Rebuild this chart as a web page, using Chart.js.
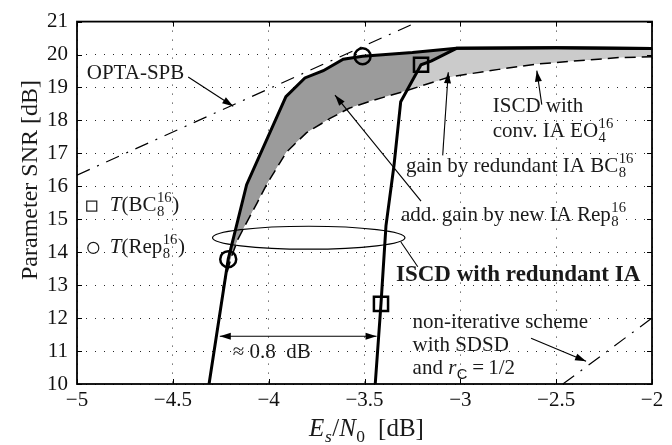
<!DOCTYPE html>
<html>
<head>
<meta charset="utf-8">
<script src="https://cdn.jsdelivr.net/npm/chart.js@4/dist/chart.umd.min.js"></script>
<style>
  html, body { margin: 0; padding: 0; background: #fff; }
  #wrap { width: 672px; height: 445px; }
</style>
</head>
<body>
<div id="wrap"><canvas id="c" width="672" height="445"></canvas></div>
<script>
// axes
const xTicks = [-5, -4.5, -4, -3.5, -3, -2.5, -2];
const yTicks = [10, 11, 12, 13, 14, 15, 16, 17, 18, 19, 20, 21];

// ISCD with redundant IA Rep_8^16 (thick, left curve)
const repX = [-4.311, -4.211, -4.115, -3.91, -3.811, -3.715, -3.611, -3.51, -3.25, -3.02, -2.5, -2.0];
const repY = [10.0, 13.79, 16.05, 18.72, 19.29, 19.51, 19.86, 19.95, 20.06, 20.19, 20.21, 20.18];
const repMarkX = [-4.211, -3.51];
const repMarkY = [13.79, 19.95];

// ISCD with redundant IA BC_8^16 (thick, right curve)
const bcX = [-3.444, -3.414, -3.388, -3.346, -3.311, -3.205, -3.15, -3.02, -2.5, -2.0];
const bcY = [10.0, 12.43, 14.8, 16.64, 18.57, 19.69, 19.81, 20.19, 20.21, 20.18];
const bcMarkX = [-3.414, -3.205];
const bcMarkY = [12.43, 19.69];

// ISCD with conventional IA EO_4^16 (dashed)
const eoX = [-4.24, -4.195, -4.16, -4.123, -4.06, -4.011, -3.907, -3.802, -3.68, -3.58, -3.45, -3.30, -3.057, -2.8, -2.605, -2.17, -2.0];
const eoY = [12.9, 13.85, 14.4, 14.81, 15.5, 16.05, 17.04, 17.63, 18.06, 18.37, 18.62, 18.87, 19.32, 19.55, 19.71, 19.91, 19.93];

// OPTA-SPB
const optaX = [-5, -3.22];
const optaY = [16.34, 21];

// non-iterative scheme with SDSD, r_C = 1/2
const sdsdX = [-2.465, -2.0];
const sdsdY = [10.0, 12.0];

const pts = (xs, ys) => xs.map((x, i) => ({ x, y: ys[i] }));
const minus = v => String(v).replace('-', '\u2212');
const clear = 'rgba(0,0,0,0)';

function font(size, it, bold, sans) {
  return (it ? 'italic ' : '') + (bold ? 'bold ' : '') + size + 'px ' +
    (sans ? "'Liberation Sans', sans-serif" : "'Liberation Serif', serif");
}

// text with italic parts and stacked sup/sub scripts
function rich(ctx, parts, x, y, size, align, bold) {
  const s = size * 0.7;
  const widths = parts.map(p => {
    if (p.t !== undefined) { ctx.font = font(size, p.i, bold); return ctx.measureText(p.t).width; }
    let w = 0;
    if (p.sup) { ctx.font = font(s, false, bold); w = Math.max(w, ctx.measureText(p.sup).width); }
    if (p.sub) { ctx.font = font(s, p.i, bold, p.sans); w = Math.max(w, ctx.measureText(p.sub).width); }
    return w + 1;
  });
  const total = widths.reduce((a, b) => a + b, 0);
  let cx = align === 'center' ? x - total / 2 : x;
  ctx.textAlign = 'left';
  ctx.textBaseline = 'alphabetic';
  parts.forEach((p, i) => {
    if (p.t !== undefined) {
      ctx.font = font(size, p.i, bold);
      ctx.fillText(p.t, cx, y);
    } else {
      if (p.sup) { ctx.font = font(s, false, bold); ctx.fillText(p.sup, cx + 0.5, y - size * 0.42); }
      if (p.sub) { ctx.font = font(s, p.i, bold, p.sans); ctx.fillText(p.sub, cx + 0.5, y + size * 0.24); }
    }
    cx += widths[i];
  });
}

function arrow(ctx, x1, y1, x2, y2, head, both) {
  ctx.beginPath(); ctx.moveTo(x1, y1); ctx.lineTo(x2, y2); ctx.stroke();
  const tip = (ax, ay, bx, by) => {
    const a = Math.atan2(by - ay, bx - ax), L = 11, W = 3.5;
    ctx.beginPath();
    ctx.moveTo(bx, by);
    ctx.lineTo(bx - L * Math.cos(a) + W * Math.sin(a), by - L * Math.sin(a) - W * Math.cos(a));
    ctx.lineTo(bx - L * Math.cos(a) - W * Math.sin(a), by - L * Math.sin(a) + W * Math.cos(a));
    ctx.closePath(); ctx.fill();
  };
  if (head) tip(x1, y1, x2, y2);
  if (both) tip(x2, y2, x1, y1);
}

// arrows in data coordinates: [x1, y1, x2, y2, head, both]
const arrows = [
  [-4.420, 19.32, -4.185, 18.43, true, false],   // OPTA-SPB
  [-2.575, 18.48, -2.601, 19.51, true, false],   // conv. IA EO
  [-3.092, 16.94, -3.063, 19.46, true, false],   // gain BC
  [-3.205, 15.55, -3.654, 18.77, true, false],   // add. gain Rep
  [-3.310, 14.31, -3.222, 13.56, false, false],  // ellipse pointer
  [-2.631, 11.39, -2.344, 10.69, true, false],   // SDSD
  [-4.255, 11.45, -3.437, 11.45, true, true]     // 0.8 dB
];

const labels = [
  { x: -4.949, y: 19.27, parts: [{ t: 'OPTA-SPB' }] },
  { x: -2.831, y: 18.25, parts: [{ t: 'ISCD with' }] },
  { x: -2.831, y: 17.51, parts: [{ t: 'conv. IA EO' }, { sup: '16', sub: '4' }] },
  { x: -3.284, y: 16.43, parts: [{ t: 'gain by redundant IA BC' }, { sup: '16', sub: '8' }] },
  { x: -3.310, y: 14.96, parts: [{ t: 'add. gain by new IA Rep' }, { sup: '16', sub: '8' }] },
  { x: -3.336, y: 13.12, parts: [{ t: 'ISCD with redundant IA' }], bold: true, size: 23 },
  { x: -3.249, y: 11.70, parts: [{ t: 'non-iterative scheme' }] },
  { x: -3.249, y: 10.99, parts: [{ t: 'with SDSD' }] },
  { x: -3.249, y: 10.30, parts: [{ t: 'and ' }, { t: 'r', i: true }, { sub: 'C', sans: true }, { t: '\u2009=\u20091/2' }] },
  { x: -4.187, y: 10.80, parts: [{ t: '\u2248 0.8  dB' }] },
  { x: -4.829, y: 15.25, parts: [{ t: 'T', i: true }, { t: '(BC' }, { sup: '16', sub: '8' }, { t: ')' }] },
  { x: -4.829, y: 13.97, parts: [{ t: 'T', i: true }, { t: '(Rep' }, { sup: '16', sub: '8' }, { t: ')' }] }
];

const decor = {
  id: 'decor',
  afterDatasetsDraw(chart) {
    const { ctx, chartArea: a } = chart;
    const xs = chart.scales.x, ys = chart.scales.y;
    const px = v => xs.getPixelForValue(v), py = v => ys.getPixelForValue(v);
    ctx.save();
    ctx.strokeStyle = '#000';
    ctx.fillStyle = '#000';

    // ellipse around the ISCD curves
    ctx.lineWidth = 1.2;
    ctx.beginPath();
    ctx.ellipse(px(-3.791), py(14.44), px(-3.791 + 0.502) - px(-3.791), py(14.44) - py(14.44 + 0.348), 0, 0, Math.PI * 2);
    ctx.stroke();

    ctx.lineWidth = 1.1;
    arrows.forEach(r => arrow(ctx, px(r[0]), py(r[1]), px(r[2]), py(r[3]), r[4], r[5]));

    ctx.fillStyle = '#1a1a1a';
    labels.forEach(l => rich(ctx, l.parts, px(l.x), py(l.y), l.size || 21, 'left', l.bold));

    // legend symbols
    ctx.lineWidth = 1.2;
    ctx.strokeStyle = '#1a1a1a';
    ctx.strokeRect(px(-4.923) - 5, py(15.40) - 5, 10, 10);
    ctx.beginPath();
    ctx.arc(px(-4.915), py(14.13), 5.5, 0, Math.PI * 2);
    ctx.stroke();

    // inward ticks and frame
    ctx.strokeStyle = '#000';
    ctx.lineWidth = 1;
    ctx.beginPath();
    xTicks.forEach(v => {
      const x = Math.round(px(v)) + 0.5;
      ctx.moveTo(x, a.bottom); ctx.lineTo(x, a.bottom - 5);
      ctx.moveTo(x, a.top); ctx.lineTo(x, a.top + 5);
    });
    yTicks.forEach(v => {
      const y = Math.round(py(v)) + 0.5;
      ctx.moveTo(a.left, y); ctx.lineTo(a.left + 5, y);
      ctx.moveTo(a.right, y); ctx.lineTo(a.right - 5, y);
    });
    ctx.stroke();
    ctx.lineWidth = 1.8;
    ctx.strokeRect(a.left, a.top, a.right - a.left, a.bottom - a.top);

    // axis titles
    ctx.fillStyle = '#1a1a1a';
    rich(ctx, [{ t: 'E', i: true }, { sub: 's', i: true }, { t: '/' }, { t: 'N', i: true }, { sub: '0' }, { t: '\u2002[dB]' }],
      (a.left + a.right) / 2 + 2, 436, 25, 'center');
    ctx.save();
    ctx.translate(37, 180);
    ctx.rotate(-Math.PI / 2);
    rich(ctx, [{ t: 'Parameter SNR [dB]' }], 0, 0, 24, 'center');
    ctx.restore();
    ctx.restore();
  }
};

new Chart(document.getElementById('c'), {
  type: 'line',
  data: {
    datasets: [
      { // 0: BC_8^16 curve, light gray gain region
        data: pts(bcX, bcY), borderColor: '#000', borderWidth: 3, pointRadius: 0,
        fill: { target: 2, above: '#cbcbcb', below: clear }
      },
      { // 1: Rep_8^16 curve, dark gray gain region
        data: pts(repX, repY), borderColor: '#000', borderWidth: 3, pointRadius: 0,
        fill: { target: 2, above: '#9b9b9b', below: clear }
      },
      { // 2: EO_4^16
        data: pts(eoX, eoY), borderColor: '#000', borderWidth: 1.5, borderDash: [11, 6], pointRadius: 0, fill: false
      },
      { // 3: OPTA-SPB
        data: pts(optaX, optaY), borderColor: '#000', borderWidth: 1.2, borderDash: [14, 8, 2, 8], pointRadius: 0, fill: false
      },
      { // 4: SDSD
        data: pts(sdsdX, sdsdY), borderColor: '#000', borderWidth: 1.2, borderDash: [14, 8, 2, 8], pointRadius: 0, fill: false
      },
      { // 5: T(Rep) markers
        data: pts(repMarkX, repMarkY), showLine: false, pointStyle: 'circle', pointRadius: 8,
        pointBorderWidth: 2.5, pointBorderColor: '#000', pointBackgroundColor: clear, fill: false
      },
      { // 6: T(BC) markers
        data: pts(bcMarkX, bcMarkY), showLine: false, pointStyle: 'rect', pointRadius: 10,
        pointBorderWidth: 2.5, pointBorderColor: '#000', pointBackgroundColor: clear, fill: false
      }
    ]
  },
  options: {
    responsive: false,
    animation: false,
    devicePixelRatio: 1,
    layout: { padding: { top: 13, right: 20, left: 0, bottom: 0 } },
    elements: { line: { tension: 0 } },
    plugins: {
      legend: { display: false },
      tooltip: { enabled: false },
      filler: { drawTime: 'beforeDatasetsDraw' }
    },
    scales: {
      x: {
        type: 'linear', min: -5, max: -2,
        afterBuildTicks: s => { s.ticks = xTicks.map(v => ({ value: v })); },
        afterFit: s => { s.height = 61; },
        ticks: { callback: minus, padding: 4, color: '#111', font: { family: "'Liberation Serif', serif", size: 21 } },
        grid: { color: 'rgba(0,0,0,0.85)', lineWidth: 1, drawTicks: false },
        border: { display: false, dash: [1, 8] }
      },
      y: {
        min: 10, max: 21,
        afterBuildTicks: s => { s.ticks = yTicks.map(v => ({ value: v })); },
        afterFit: s => { s.width = 77; },
        ticks: { callback: minus, padding: 9, color: '#111', font: { family: "'Liberation Serif', serif", size: 21 } },
        grid: { color: 'rgba(0,0,0,0.85)', lineWidth: 1, drawTicks: false },
        border: { display: false, dash: [1, 8] }
      }
    }
  },
  plugins: [decor]
});
</script>
</body>
</html>
